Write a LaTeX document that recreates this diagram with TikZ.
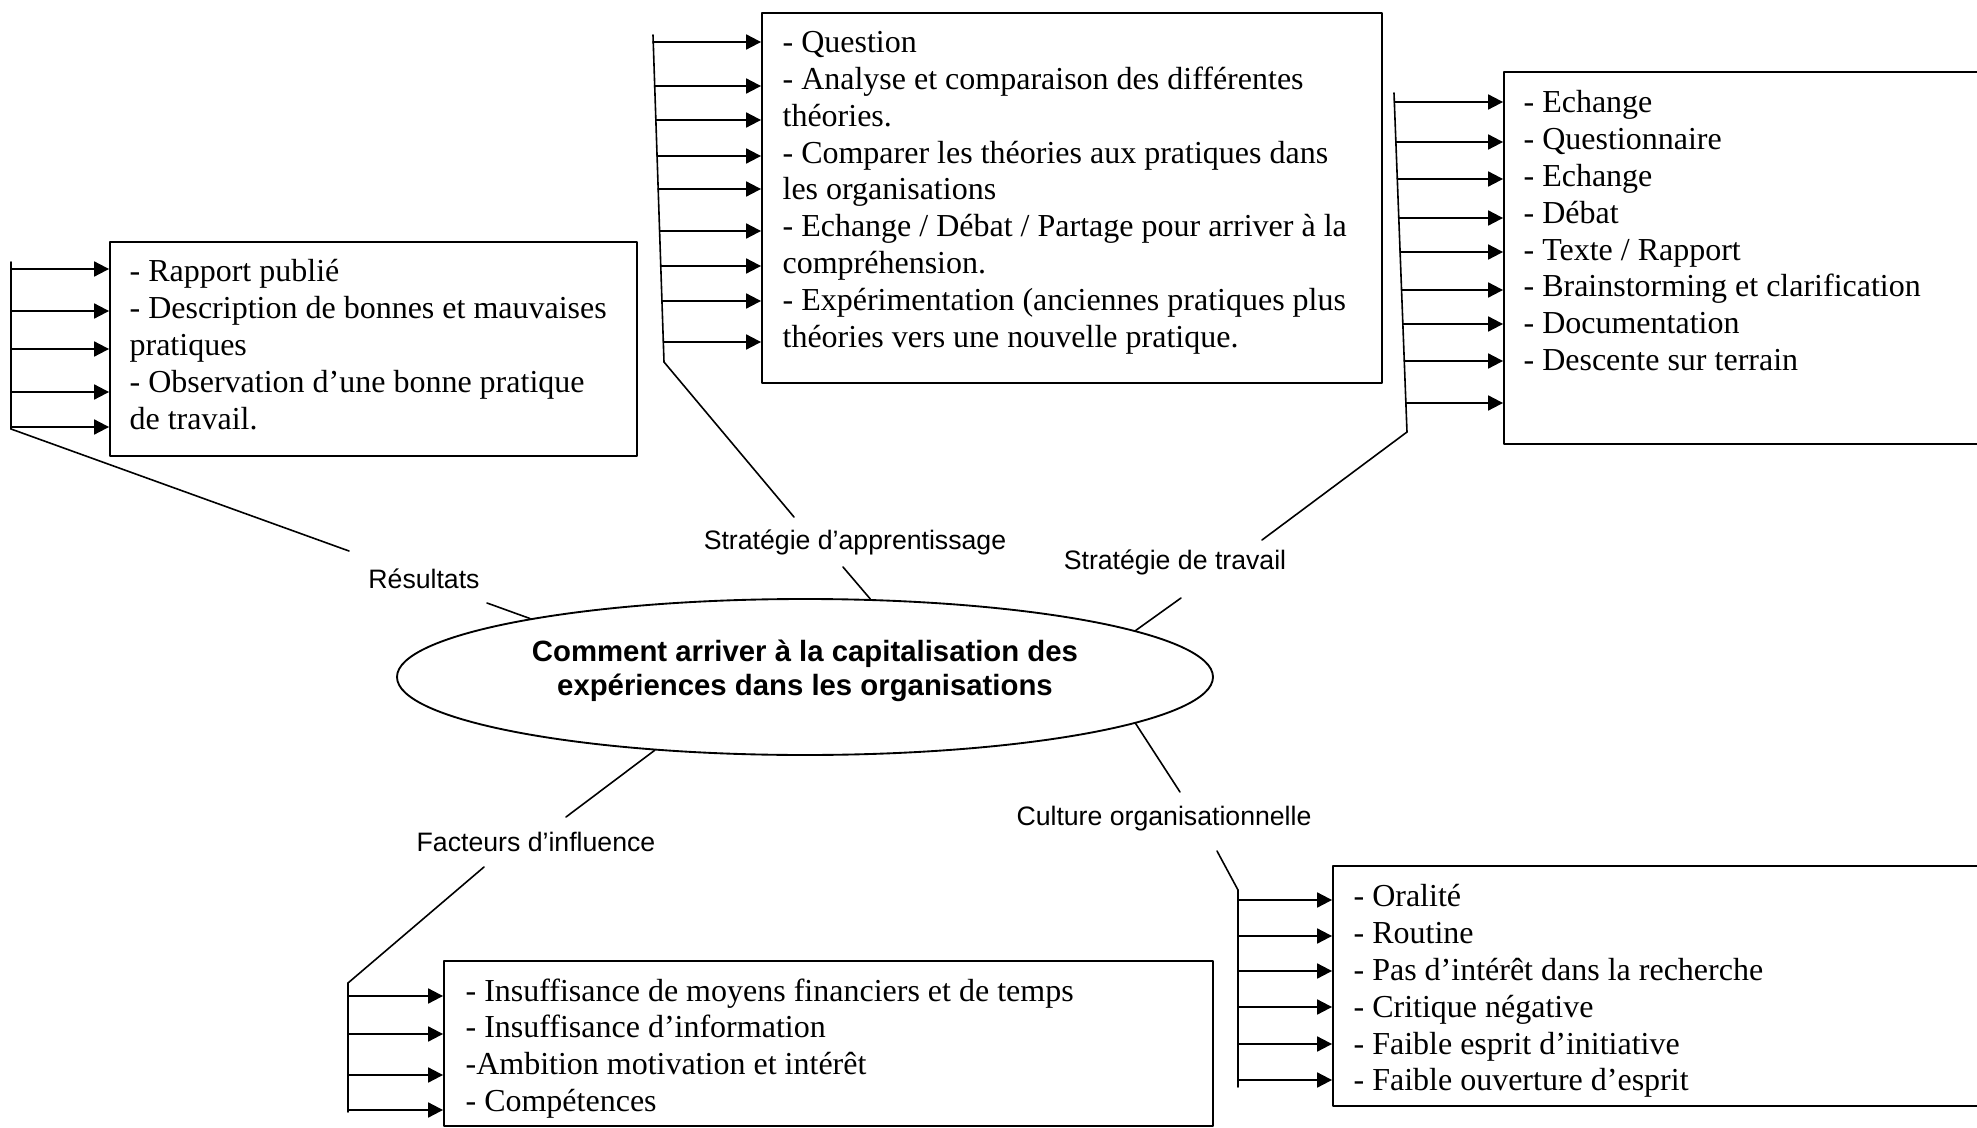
\documentclass[tikz,border=0pt]{standalone}
\usepackage{fontspec}
\setmainfont{Liberation Serif}
\setsansfont{Liberation Sans}
\usetikzlibrary{arrows.meta,shapes.geometric,fit,calc}

\begin{document}
\begin{tikzpicture}[x=0.375pt,y=-0.375pt,line cap=round,line join=round,
  panel/.style={draw,line width=0.7pt,inner sep=0pt},
  items/.style={anchor=north west,inner sep=0pt,align=left,font=\fontsize{12}{13.8}\selectfont},
  tag/.style={font=\sffamily\fontsize{10}{12}\selectfont,inner sep=1pt},
  hub/.style={ellipse,draw,line width=0.7pt,minimum width=306pt,minimum height=58.5pt,inner sep=0pt},
  feed/.style={line width=0.75pt,-{Triangle[length=5.6pt,width=5.6pt]}},
  rail/.style={line width=0.6pt}]

\useasboundingbox (0,0) rectangle (1977,1128);

% centre question
\node[hub] (Q) at (805,677) {};
\node[align=center,inner sep=0pt,font=\sffamily\bfseries\fontsize{11}{12.7}\selectfont] (Qt) at (805,671) {Comment arriver à la capitalisation des\\expériences dans les organisations};

% box corners
\coordinate (b1a) at (110,242);  \coordinate (b1b) at (637,456);
\coordinate (b2a) at (762,13);   \coordinate (b2b) at (1382,383);
\coordinate (b3a) at (1504,72);  \coordinate (b3b) at (1995,444);
\coordinate (b4a) at (444,961);  \coordinate (b4b) at (1213,1126);
\coordinate (b5a) at (1333,866); \coordinate (b5b) at (1995,1106);

% boxes
\node[panel,fit=(b1a)(b1b)] (res) {};
\node[panel,fit=(b2a)(b2b)] (app) {};
\node[panel,fit=(b3a)(b3b)] (tra) {};
\node[panel,fit=(b4a)(b4b)] (fac) {};
\node[panel,fit=(b5a)(b5b)] (cul) {};

% box texts
\node[items] (resT) at ([shift={(20,18)}]res.north west) {- Rapport publié\\- Description de bonnes et mauvaises\\pratiques\\- Observation d’une bonne pratique\\de travail.};
\node[items] (appT) at ([shift={(21,19)}]app.north west) {- Question\\- Analyse et comparaison des différentes\\théories.\\- Comparer les théories aux pratiques dans\\les organisations\\- Echange / Débat / Partage pour arriver à la\\compréhension.\\- Expérimentation (anciennes pratiques plus\\théories vers une nouvelle pratique.};
\node[items] (traT) at ([shift={(20,19)}]tra.north west) {- Echange\\- Questionnaire\\- Echange\\- Débat\\- Texte / Rapport\\- Brainstorming et clarification\\- Documentation\\- Descente sur terrain};
\node[items] (facT) at ([shift={(22,18)}]fac.north west) {- Insuffisance de moyens financiers et de temps\\- Insuffisance d’information\\-Ambition motivation et intérêt\\- Compétences};
\node[items] (culT) at ([shift={(21,19)}]cul.north west) {- Oralité\\- Routine\\- Pas d’intérêt dans la recherche\\- Critique négative\\- Faible esprit d’initiative\\- Faible ouverture d’esprit};

% rails
\coordinate (r1a) at (11,262);   \coordinate (r1b) at (11,429);
\coordinate (r2a) at (653,35);   \coordinate (r2b) at (664,362);
\coordinate (r3a) at (1394,93);  \coordinate (r3b) at (1407,432);
\coordinate (r4a) at (348,983);  \coordinate (r4b) at (348,1112);
\coordinate (r5a) at (1238,890); \coordinate (r5b) at (1238,1087);
\draw[rail] (r1a) -- (r1b);
\draw[rail] (r2a) -- (r2b);
\draw[rail] (r3a) -- (r3b);
\draw[rail] (r4a) -- (r4b);
\draw[rail] (r5a) -- (r5b);

% arrows into the boxes
\foreach \y in {269,311,349,392,427}{
  \coordinate (s) at ($(r1a)!{(\y-262)/167}!(r1b)$);
  \draw[feed] (s) -- (s -| res.west);}
\foreach \y in {42,86,120,156,189,231,266,301,342}{
  \coordinate (s) at ($(r2a)!{(\y-35)/327}!(r2b)$);
  \draw[feed] (s) -- (s -| app.west);}
\foreach \y in {102,142,179,218,252,290,324,361,403}{
  \coordinate (s) at ($(r3a)!{(\y-93)/339}!(r3b)$);
  \draw[feed] (s) -- (s -| tra.west);}
\foreach \y in {996,1034,1075,1110}{
  \coordinate (s) at ($(r4a)!{(\y-983)/129}!(r4b)$);
  \draw[feed] (s) -- (s -| fac.west);}
\foreach \y in {900,936,971,1007,1044,1080}{
  \coordinate (s) at ($(r5a)!{(\y-890)/197}!(r5b)$);
  \draw[feed] (s) -- (s -| cul.west);}

% branch labels
\node[tag] (lres) at (424,579) {Résultats};
\node[tag] (lapp) at (855,542) {Stratégie d’apprentissage};
\node[tag] (ltra) at (1175,562) {Stratégie de travail};
\node[tag] (lfac) at (536,842) {Facteurs d’influence};
\node[tag] (lcul) at (1164,819) {Culture organisationnelle};

% branch lines
\coordinate (c1) at (349,551);  \coordinate (d1) at (487,603);
\coordinate (c2) at (794,517);  \coordinate (d2) at (843,567);
\coordinate (c3) at (1262,540); \coordinate (d3) at (1181,598);
\coordinate (c4) at (484,867);  \coordinate (d4) at (566,817);
\coordinate (c5) at (1217,851); \coordinate (d5) at (1180,792);
\draw[rail] (r1b) -- (c1); \draw[rail] (d1) -- (Q.168);
\draw[rail] (r2b) -- (c2); \draw[rail] (d2) -- (Q.50);
\draw[rail] (r3b) -- (c3); \draw[rail] (d3) -- (Q.8);
\draw[rail] (r4a) -- (c4); \draw[rail] (d4) -- (Q.206);
\draw[rail] (r5a) -- (c5); \draw[rail] (d5) -- (Q.352);

\end{tikzpicture}
\end{document}
